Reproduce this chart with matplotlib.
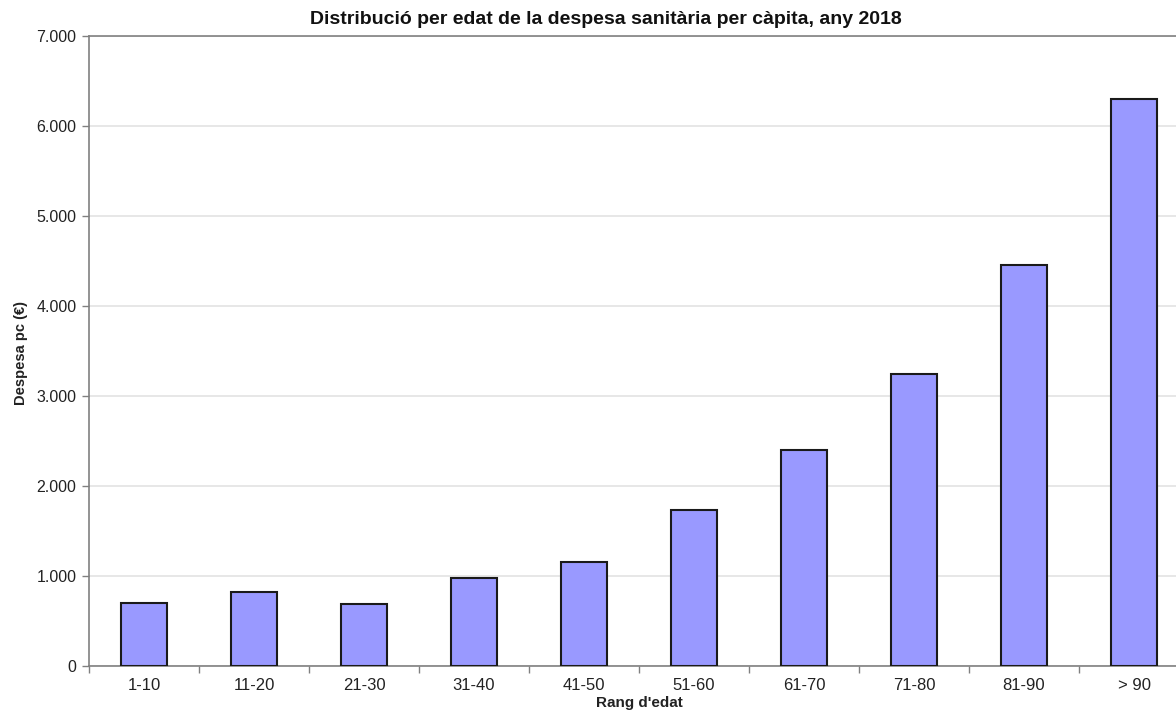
import matplotlib
matplotlib.use("Agg")
import matplotlib.pyplot as plt
from matplotlib.ticker import FuncFormatter, FixedLocator
import numpy as np

categories = ["1-10", "11-20", "21-30", "31-40", "41-50", "51-60", "61-70", "71-80", "81-90", "> 90"]
values = [697, 819, 690, 974, 1159, 1730, 2400, 3248, 4459, 6303]
yticks = [0, 1000, 2000, 3000, 4000, 5000, 6000, 7000]

plt.rcParams['font.family'] = ['Liberation Sans', 'DejaVu Sans']

W, H = 1176, 713
fig = plt.figure(figsize=(W / 100, H / 100), dpi=100)
ax = fig.add_axes([89 / W, 1 - 666 / H, 1100 / W, (666 - 36) / H])

x = np.arange(len(categories))
ax.bar(x, values, width=0.41, color="#9999FF", edgecolor="#1a1a1a", linewidth=1.5, zorder=3)

ax.set_xlim(-0.5, len(categories) - 0.5)
ax.set_ylim(0, 7000)
ax.set_yticks(yticks)
ax.yaxis.set_major_formatter(FuncFormatter(lambda v, p: f"{int(v):,}".replace(",", ".")))
ax.set_xticks(x)
ax.set_xticklabels(categories)
ax.xaxis.set_minor_locator(FixedLocator(np.arange(-0.5, len(categories), 1.0)))
ax.tick_params(axis="x", which="major", length=0, labelsize=12, pad=9, colors="#222222")
ax.tick_params(axis="x", which="minor", length=5, width=1, color="#808080", direction="out")
ax.tick_params(axis="y", which="major", length=5, width=1, color="#808080", labelsize=11.5, labelcolor="#222222", pad=4)

ax.grid(axis="y", color="#e3e3e3", linewidth=1.2, zorder=0)
for s in ["left", "bottom", "top"]:
    ax.spines[s].set_color("#808080")
    ax.spines[s].set_linewidth(1.2)
ax.spines["right"].set_visible(False)

ax.set_xlabel("Rang d'edat", fontsize=11, fontweight="bold", color="#222222")
ax.xaxis.set_label_coords((639 - 89) / 1100, -(696 - 666) / 630)
ax.set_ylabel("Despesa pc (€)", fontsize=10.5, fontweight="bold", color="#222222")
ax.yaxis.set_label_coords(-(89 - 28) / 1100, (666 - 353) / 630)

fig.text(606 / W, 1 - 20 / H, "Distribució per edat de la despesa sanitària per càpita, any 2018",
         ha="center", va="center", fontsize=14, fontweight="bold", color="#111111")

fig.savefig("out.png", dpi=100)
